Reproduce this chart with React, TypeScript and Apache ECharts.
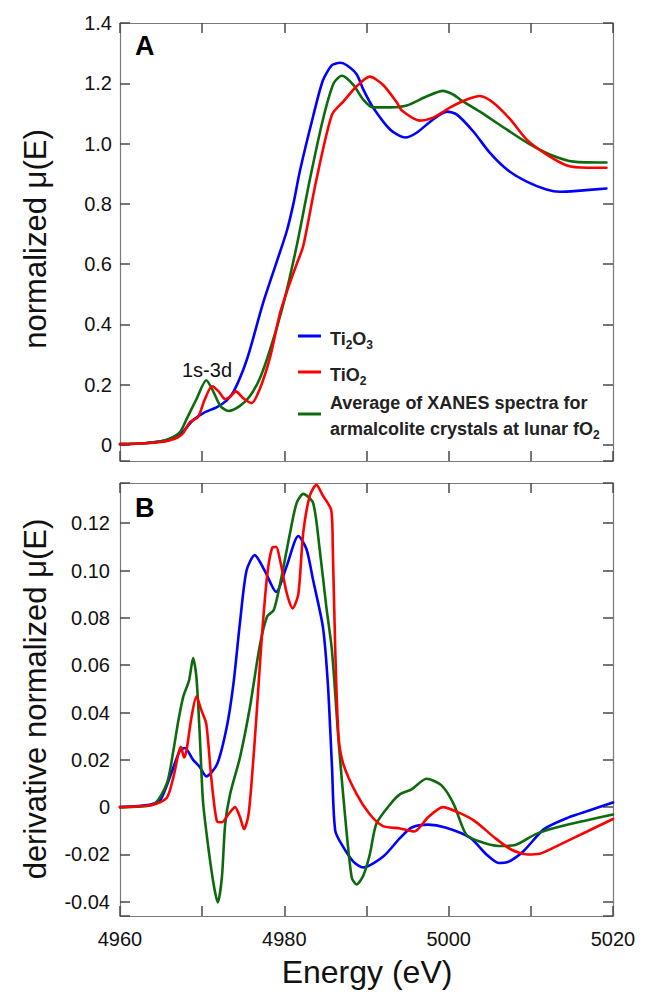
import React, { useEffect, useRef } from "react";
import * as echarts from "echarts";

// ---------- Data ----------
const energyMin = 4960;
const energyMax = 5020;
const energyTicks = [4960, 4980, 5000, 5020];

// Panel A: normalized mu(E)
const ti2o3EnergyA = [4960, 4963, 4965, 4966, 4967, 4967.7, 4968.9, 4970.2, 4971.8, 4973, 4973.8, 4975, 4975.8, 4977.4, 4979.1, 4980.3, 4981.1, 4981.9, 4983.5, 4984.7, 4985.8, 4986.8, 4987.6, 4988.8, 4989.6, 4990.8, 4992.9, 4994.7, 4996.1, 4998.1, 4999.8, 5001, 5003, 5005, 5007.1, 5009.5, 5011.9, 5013.5, 5016, 5019.2];
const ti2o3MuA = [0.003, 0.006, 0.012, 0.02, 0.032, 0.045, 0.083, 0.107, 0.126, 0.148, 0.176, 0.25, 0.315, 0.47, 0.61, 0.71, 0.80, 0.91, 1.09, 1.21, 1.26, 1.268, 1.26, 1.23, 1.18, 1.12, 1.046, 1.02, 1.036, 1.08, 1.106, 1.096, 1.04, 0.97, 0.914, 0.874, 0.848, 0.84, 0.844, 0.851];

const tio2EnergyA = [4960, 4963, 4965, 4966, 4967, 4967.7, 4968.5, 4969.5, 4970.3, 4971.2, 4972, 4972.8, 4973.4, 4974.1, 4975, 4976, 4977, 4978.3, 4979.5, 4980.7, 4981.5, 4982.3, 4983.9, 4985.8, 4987.2, 4988.8, 4990.4, 4992, 4993.7, 4994.3, 4996.5, 4998.1, 5000.2, 5002.2, 5003.8, 5005.4, 5007.5, 5009.5, 5011.9, 5014.4, 5016.8, 5019.2];
const tio2MuA = [0.003, 0.006, 0.01, 0.015, 0.025, 0.04, 0.076, 0.093, 0.15, 0.195, 0.178, 0.152, 0.16, 0.178, 0.155, 0.139, 0.185, 0.295, 0.44, 0.54, 0.6, 0.66, 0.88, 1.096, 1.14, 1.19, 1.222, 1.195, 1.136, 1.11, 1.076, 1.086, 1.12, 1.146, 1.158, 1.136, 1.08, 1.013, 0.964, 0.927, 0.92, 0.92];

const armEnergyA = [4960, 4963, 4965, 4966, 4967.3, 4968.1, 4969.3, 4970.5, 4971.4, 4972.2, 4973.2, 4974.6, 4975.8, 4977, 4978.3, 4979.9, 4981.5, 4983.1, 4984.7, 4986, 4987, 4988.4, 4989.6, 4990.8, 4992.9, 4994.9, 4997.3, 4999.3, 5000.6, 5001.4, 5003.8, 5007.1, 5009.9, 5012.3, 5015.2, 5019.2];
const armMuA = [0.003, 0.006, 0.012, 0.02, 0.043, 0.086, 0.152, 0.215, 0.175, 0.13, 0.113, 0.13, 0.162, 0.22, 0.32, 0.47, 0.66, 0.88, 1.08, 1.2, 1.225, 1.195, 1.146, 1.12, 1.12, 1.126, 1.156, 1.175, 1.162, 1.146, 1.106, 1.046, 0.997, 0.964, 0.94, 0.937];

// Panel B: derivative normalized mu(E)
const ti2o3EnergyB = [4960, 4963.6, 4964.9, 4966.1, 4967.3, 4967.9, 4968.9, 4969.7, 4970.5, 4971.8, 4973, 4973.8, 4974.6, 4975.4, 4976.4, 4977.6, 4979, 4980.3, 4981.7, 4982.7, 4983.5, 4984.7, 4985.3, 4985.8, 4986.2, 4987.2, 4988.4, 4989.6, 4992, 4994.1, 4995.5, 4997.5, 4999.6, 5002.6, 5004.6, 5006.1, 5007.1, 5009.1, 5011.6, 5014.6, 5017.1, 5020];
const ti2o3DerivB = [0, 0.001, 0.003, 0.013, 0.024, 0.025, 0.02, 0.017, 0.013, 0.018, 0.034, 0.052, 0.078, 0.1, 0.1065, 0.1, 0.091, 0.102, 0.1146, 0.109, 0.096, 0.076, 0.052, 0.017, -0.01, -0.017, -0.023, -0.0255, -0.021, -0.013, -0.0086, -0.0074, -0.0086, -0.0129, -0.02, -0.0236, -0.0233, -0.0186, -0.0093, -0.0043, -0.0014, 0.002];

const tio2EnergyB = [4960, 4964, 4965.7, 4966.5, 4967.1, 4967.4, 4967.8, 4968.1, 4968.7, 4969.3, 4969.9, 4970.5, 4971.1, 4971.8, 4972.4, 4973.2, 4974, 4974.6, 4975.1, 4975.6, 4976, 4976.6, 4977.2, 4977.9, 4978.5, 4979, 4979.5, 4980.3, 4981, 4981.7, 4982.3, 4983.1, 4983.9, 4984.7, 4985.7, 4985.9, 4986.2, 4986.6, 4987.2, 4988.8, 4990.4, 4992, 4994.1, 4995.8, 4997.5, 4999.3, 5001.1, 5003.1, 5005.6, 5007.6, 5009.6, 5011.1, 5013.6, 5016.6, 5020];
const tio2DerivB = [0, 0.001, 0.004, 0.0127, 0.0225, 0.0255, 0.021, 0.024, 0.038, 0.0467, 0.041, 0.0352, 0.0127, -0.006, -0.0064, -0.003, 0.0, -0.0042, -0.0093, -0.004, 0.0098, 0.038, 0.069, 0.0976, 0.1095, 0.11, 0.104, 0.0904, 0.084, 0.09, 0.116, 0.1316, 0.1362, 0.1316, 0.1256, 0.109, 0.066, 0.0297, 0.018, 0.0055, -0.003, -0.008, -0.009, -0.0103, -0.0043, 0.0, -0.0021, -0.0057, -0.0129, -0.0179, -0.02, -0.0197, -0.0157, -0.0107, -0.005];

const armEnergyB = [4960, 4964, 4965.7, 4966.5, 4967.1, 4967.7, 4968.4, 4968.9, 4969.3, 4969.7, 4970.1, 4970.7, 4971.4, 4971.9, 4972.4, 4972.8, 4973.4, 4974.6, 4975.8, 4977, 4977.9, 4978.7, 4979.5, 4980.7, 4981.5, 4982.3, 4983.5, 4984.3, 4985.1, 4985.8, 4986.6, 4987.4, 4988.2, 4988.8, 4989.6, 4990.4, 4991.2, 4992.9, 4994.1, 4995.5, 4997.3, 4999.1, 5000.6, 5002.1, 5003.6, 5006.1, 5008.1, 5010.6, 5013.1, 5016.6, 5020];
const armDerivB = [0, 0.001, 0.01, 0.024, 0.0365, 0.0467, 0.0535, 0.063, 0.055, 0.031, 0.0025, -0.0157, -0.0327, -0.0403, -0.0297, -0.0072, 0.0055, 0.021, 0.042, 0.068, 0.0806, 0.0832, 0.0946, 0.116, 0.1286, 0.1324, 0.1286, 0.109, 0.085, 0.066, 0.028, -0.004, -0.0297, -0.0327, -0.029, -0.02, -0.007, 0.0013, 0.0055, 0.0075, 0.012, 0.0093, 0.0014, -0.0114, -0.0143, -0.0164, -0.016, -0.0114, -0.0086, -0.0057, -0.0031];

const seriesNames = ["Ti2O3", "TiO2", "Average of XANES spectra for armalcolite crystals at lunar fO2"];

// ---------- Styles ----------
const FONT = "'Liberation Sans', Arial, Helvetica, sans-serif";
const BLUE = "#0000ff";
const RED = "#ff0000";
const GREEN = "#0d6b0d";
const AXIS_GREY = "#7a7a7a";
const TICK_GREY = "#4a4a4a";

const zip = (xs: number[], ys: number[]) => xs.map((x, i) => [x, ys[i]]);

function onStep(v: number, step: number) {
  const r = v / step;
  return Math.abs(r - Math.round(r)) < 1e-6;
}

function xAxisDef(gridIndex: number, position: "top" | "bottom", showLabels: boolean) {
  return {
    type: "value",
    gridIndex,
    position,
    min: energyMin,
    max: energyMax,
    interval: 10,
    axisLine: { show: true, onZero: false, lineStyle: { color: AXIS_GREY, width: 1.2 } },
    axisTick: { show: true, inside: true, length: 10, lineStyle: { color: TICK_GREY, width: 1.5 } },
    splitLine: { show: false },
    axisLabel: {
      show: showLabels,
      fontFamily: FONT,
      fontSize: 20,
      color: "#111",
      margin: 13,
      formatter: (v: number) => (energyTicks.includes(v) ? String(v) : ""),
    },
  };
}

function yAxisDef(
  gridIndex: number,
  position: "left" | "right",
  min: number,
  max: number,
  step: number,
  digits: number,
  showLabels: boolean,
  margin: number
) {
  return {
    type: "value",
    gridIndex,
    position,
    min,
    max,
    minInterval: step,
    maxInterval: step,
    axisLine: { show: true, onZero: false, lineStyle: { color: AXIS_GREY, width: 1.2 } },
    axisTick: { show: true, inside: true, length: 10, lineStyle: { color: TICK_GREY, width: 1.5 } },
    splitLine: { show: false },
    axisLabel: {
      show: showLabels,
      fontFamily: FONT,
      fontSize: 20,
      color: "#111",
      margin,
      showMinLabel: true,
      showMaxLabel: true,
      formatter: (v: number) => {
        if (!onStep(v, step)) return "";
        if (Math.abs(v) < 1e-9) return "0";
        return v.toFixed(digits);
      },
    },
  };
}

function lineSeries(name: string, data: number[][], color: string, xi: number, yi: number) {
  return {
    name,
    type: "line",
    xAxisIndex: xi,
    yAxisIndex: yi,
    data,
    showSymbol: false,
    symbol: "none",
    smooth: 0.25,
    lineStyle: { color, width: 2.6, join: "round", cap: "round" },
    itemStyle: { color },
    clip: true,
  };
}

const legendRich = {
  m: { fontFamily: FONT, fontSize: 18, fontWeight: "bold", fill: "#222", lineHeight: 24, verticalAlign: "middle" },
  s: { fontFamily: FONT, fontSize: 12, fontWeight: "bold", fill: "#222", lineHeight: 11, verticalAlign: "bottom" },
};

function legendLine(y: number, color: string) {
  return {
    type: "line",
    shape: { x1: 298, y1: y, x2: 321, y2: y },
    style: { stroke: color, lineWidth: 3 },
    silent: true,
  };
}

function legendText(x: number, y: number, text: string) {
  return {
    type: "text",
    x,
    y,
    style: { text, rich: legendRich, fill: "#222", verticalAlign: "middle", align: "left" },
    silent: true,
  };
}

export default function App() {
  const ref = useRef<HTMLDivElement>(null);

  useEffect(() => {
    if (!ref.current) return;
    const chart = echarts.init(ref.current, null, { renderer: "svg" });

    const option = {
      animation: false,
      backgroundColor: "#ffffff",
      grid: [
        { left: 120, top: 23, width: 493, height: 438, containLabel: false },
        { left: 120, top: 483, width: 493, height: 433, containLabel: false },
      ],
      xAxis: [
        xAxisDef(0, "bottom", false),
        xAxisDef(0, "top", false),
        xAxisDef(1, "bottom", true),
        xAxisDef(1, "top", false),
      ],
      yAxis: [
        yAxisDef(0, "left", -0.053, 1.4, 0.2, 1, true, 8),
        yAxisDef(0, "right", -0.053, 1.4, 0.2, 1, false, 8),
        yAxisDef(1, "left", -0.046, 0.137, 0.02, 2, true, 10),
        yAxisDef(1, "right", -0.046, 0.137, 0.02, 2, false, 10),
      ],
      series: [
        lineSeries(seriesNames[0], zip(ti2o3EnergyA, ti2o3MuA), BLUE, 0, 0),
        lineSeries(seriesNames[2], zip(armEnergyA, armMuA), GREEN, 0, 0),
        lineSeries(seriesNames[1], zip(tio2EnergyA, tio2MuA), RED, 0, 0),
        lineSeries(seriesNames[0], zip(ti2o3EnergyB, ti2o3DerivB), BLUE, 2, 2),
        lineSeries(seriesNames[2], zip(armEnergyB, armDerivB), GREEN, 2, 2),
        lineSeries(seriesNames[1], zip(tio2EnergyB, tio2DerivB), RED, 2, 2),
      ],
      graphic: [
        {
          type: "text",
          x: 135,
          y: 46,
          style: { text: "A", font: `bold 27px ${FONT}`, fill: "#000", verticalAlign: "middle" },
        },
        {
          type: "text",
          x: 135,
          y: 508,
          style: { text: "B", font: `bold 27px ${FONT}`, fill: "#000", verticalAlign: "middle" },
        },
        {
          type: "text",
          x: 207,
          y: 370,
          style: { text: "1s-3d", font: `20px ${FONT}`, fill: "#111", align: "center", verticalAlign: "middle" },
        },
        {
          type: "text",
          x: 35,
          y: 239,
          rotation: Math.PI / 2,
          style: { text: "normalized μ(E)", font: `31px ${FONT}`, fill: "#111", align: "center", verticalAlign: "middle" },
        },
        {
          type: "text",
          x: 35,
          y: 699,
          rotation: Math.PI / 2,
          style: {
            text: "derivative normalized μ(E)",
            font: `31px ${FONT}`,
            fill: "#111",
            align: "center",
            verticalAlign: "middle",
          },
        },
        {
          type: "text",
          x: 367,
          y: 972,
          style: { text: "Energy (eV)", font: `32px ${FONT}`, fill: "#111", align: "center", verticalAlign: "middle" },
        },
        legendLine(336, BLUE),
        legendLine(372, RED),
        legendLine(414, GREEN),
        legendText(330, 339, "{m|Ti}{s|2}{m|O}{s|3}"),
        legendText(330, 375, "{m|TiO}{s|2}"),
        legendText(330, 403, "{m|Average of XANES spectra for}"),
        legendText(330, 429, "{m|armalcolite crystals at lunar fO}{s|2}"),
      ],
    };

    chart.setOption(option as any);
    return () => chart.dispose();
  }, []);

  return (
    <div
      ref={ref}
      style={{ position: "fixed", left: 0, top: 0, width: 646, height: 997, background: "#fff" }}
    />
  );
}
